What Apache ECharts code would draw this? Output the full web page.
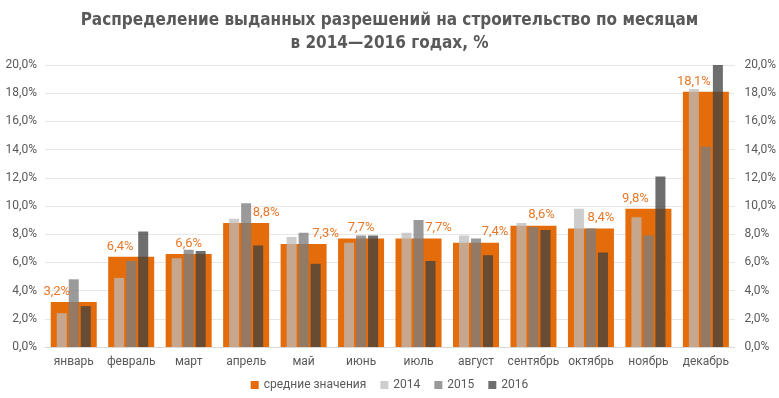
<!DOCTYPE html>
<html>
<head>
<meta charset="utf-8">
<script src="https://cdn.jsdelivr.net/npm/echarts@6/dist/echarts.min.js"></script>
<style>
  html, body { margin: 0; padding: 0; background: #fff; }
  #chart { width: 779px; height: 398px; }
</style>
</head>
<body>
<div id="chart"></div>
<script>
var months = ['январь', 'февраль', 'март', 'апрель', 'май', 'июнь', 'июль', 'август', 'сентябрь', 'октябрь', 'ноябрь', 'декабрь']
var avgValues = [3.2, 6.4, 6.6, 8.8, 7.3, 7.7, 7.7, 7.4, 8.6, 8.4, 9.8, 18.1]
var y2014 = [2.4, 4.9, 6.3, 9.1, 7.8, 7.4, 8.1, 7.9, 8.8, 9.8, 9.2, 18.3]
var y2015 = [4.8, 6.1, 6.9, 10.2, 8.1, 7.9, 9.0, 7.7, 8.5, 8.4, 7.9, 14.2]
var y2016 = [2.9, 8.2, 6.8, 7.2, 5.9, 7.9, 6.1, 6.5, 8.3, 6.7, 12.1, 20.0]

// label nudges (px), like the hand-placed labels of the original
var labelDx = [-17, -11, 0, 20, 22, 0, 20, 19, 8, 10, -13, -12]

var pct = function (v) { return v.toFixed(1).replace('.', ',') + '%' }
var txt = '#595959'

var myChart = echarts.init(document.getElementById('chart'))
myChart.setOption({
  animation: false,
  title: {
    text: 'Распределение выданных разрешений на строительство по месяцам\nв 2014—2016 годах, %',
    left: 'center',
    top: 4,
    textStyle: { color: txt, fontFamily: 'DejaVu Sans Condensed', fontWeight: 'bold', fontSize: 17, lineHeight: 23 }
  },
  legend: {
    bottom: 2,
    left: 'center',
    icon: 'rect',
    itemWidth: 8,
    itemHeight: 8,
    itemGap: 14,
    textStyle: { color: txt, fontFamily: 'Roboto', fontSize: 12 },
    data: ['средние значения', '2014', '2015', '2016']
  },
  grid: { left: 45, right: 41, top: 65, bottom: 51 },
  xAxis: [{
    type: 'category',
    data: months,
    axisTick: { show: false },
    axisLine: { lineStyle: { color: '#d9d9d9' } },
    axisLabel: { interval: 0, color: txt, fontFamily: 'Roboto', fontSize: 12, margin: 9 }
  }, {
    type: 'category',
    data: months,
    show: false
  }],
  yAxis: [{
    type: 'value',
    min: 0, max: 20, interval: 2,
    axisLabel: { color: txt, fontFamily: 'Roboto', fontSize: 12, formatter: pct, margin: 8 },
    splitLine: { lineStyle: { color: '#e6e6e6' } }
  }, {
    type: 'value',
    position: 'right',
    min: 0, max: 20, interval: 2,
    axisLabel: { color: txt, fontFamily: 'Roboto', fontSize: 12, formatter: pct, margin: 10 },
    splitLine: { show: false }
  }],
  series: [{
    name: 'средние значения',
    type: 'bar',
    xAxisIndex: 0,
    barWidth: 46,
    itemStyle: { color: '#e46c0a' },
    data: avgValues.map(function (v, i) {
      return { value: v, label: { offset: [labelDx[i], 0] } }
    }),
    label: {
      show: true,
      position: 'top',
      distance: 4,
      color: '#e8782a',
      fontFamily: 'Roboto',
      fontSize: 13,
      formatter: function (p) { return pct(p.value) }
    }
  }, {
    name: '2014',
    type: 'bar',
    xAxisIndex: 1,
    barWidth: 10,
    barGap: '20%',
    itemStyle: { color: '#bbbbbb', opacity: 0.74 },
    data: y2014
  }, {
    name: '2015',
    type: 'bar',
    xAxisIndex: 1,
    barWidth: 10,
    barGap: '20%',
    itemStyle: { color: '#7e7e7e', opacity: 0.78 },
    data: y2015
  }, {
    name: '2016',
    type: 'bar',
    xAxisIndex: 1,
    barWidth: 10,
    barGap: '20%',
    itemStyle: { color: '#404040', opacity: 0.76 },
    data: y2016
  }]
})
</script>
</body>
</html>
